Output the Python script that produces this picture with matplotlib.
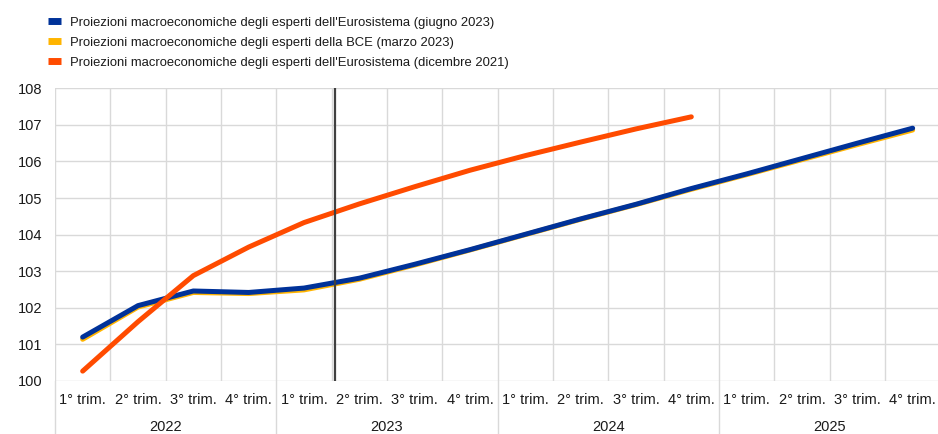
import matplotlib
matplotlib.use("Agg")
import matplotlib.pyplot as plt
from matplotlib.lines import Line2D

plt.rcParams['font.family'] = ['Liberation Sans', 'DejaVu Sans']

quarters = ["1° trim.", "2° trim.", "3° trim.", "4° trim."]
years = ["2022", "2023", "2024", "2025"]

june_2023 = [101.20, 102.06, 102.46, 102.42, 102.54, 102.81, 103.19, 103.59,
             104.01, 104.43, 104.83, 105.26, 105.66, 106.08, 106.50, 106.91]
march_2023 = [101.14, 102.02, 102.42, 102.39, 102.49, 102.78, 103.17, 103.58,
              104.00, 104.42, 104.82, 105.24, 105.64, 106.05, 106.46, 106.86]
dec_2021 = [100.27, 101.62, 102.88, 103.66, 104.33, 104.84, 105.31, 105.76,
            106.16, 106.53, 106.89, 107.22]

labels = ["Proiezioni macroeconomiche degli esperti dell'Eurosistema (giugno 2023)",
          "Proiezioni macroeconomiche degli esperti della BCE (marzo 2023)",
          "Proiezioni macroeconomiche degli esperti dell'Eurosistema (dicembre 2021)"]

BLUE = "#003299"
YELLOW = "#FFB400"
ORANGE = "#FF4B00"

W, H = 938, 434
fig = plt.figure(figsize=(W / 100, H / 100), dpi=100)
left, right_px, top, bottom = 55, 940.3, 88.3, 381
ax = fig.add_axes([left / W, (H - bottom) / H, (right_px - left) / W, (bottom - top) / H])

n = len(june_2023)
x_all = list(range(n))
x_dec = list(range(len(dec_2021)))

lw = 3.6
ax.plot(x_all, march_2023, color=YELLOW, lw=lw, solid_capstyle='round', zorder=3)
ax.plot(x_all, june_2023, color=BLUE, lw=lw, solid_capstyle='round', zorder=4)
ax.plot(x_dec, dec_2021, color=ORANGE, lw=lw, solid_capstyle='round', zorder=5)

ax.axvline(4.56, color="#404040", lw=1.6, zorder=6)

ax.set_xlim(-0.5, n - 0.5)
ax.set_ylim(100, 108)
ax.set_yticks(range(100, 109))
ax.tick_params(axis='y', length=0, pad=9, labelsize=10.5, colors='#1a1a1a')
ax.set_xticks([i - 0.5 for i in range(n + 1)])
ax.set_xticklabels([])
ax.tick_params(axis='x', length=0)
ax.grid(True, color="#d9d9d9", lw=1.0, zorder=0)
for s in ax.spines.values():
    s.set_visible(False)

trans = ax.get_xaxis_transform()
ph = bottom - top
for i in range(n):
    ax.text(i, -(400 - bottom) / ph, quarters[i % 4], transform=trans,
            ha='center', va='center', fontsize=10.5, color='#1a1a1a')
for j, yr in enumerate(years):
    ax.text(j * 4 + 1.5, -(427 - bottom) / ph, yr, transform=trans,
            ha='center', va='center', fontsize=10.5, color='#1a1a1a')
    ax.add_line(Line2D([j * 4 - 0.5, j * 4 - 0.5], [0, -(H - bottom) / ph],
                       transform=trans, color="#d9d9d9", lw=1.0, clip_on=False))

handles = [Line2D([], [], color=c, lw=5, solid_capstyle='butt') for c in (BLUE, YELLOW, ORANGE)]
fig.legend(handles, labels, loc='upper left', bbox_to_anchor=(48 / W, 1 - 16.5 / H),
           frameon=False, fontsize=9.4, handlelength=1.0, handletextpad=0.68,
           labelspacing=0.6, borderpad=0, borderaxespad=0, labelcolor='#1a1a1a')

fig.savefig("out.png", dpi=100)
